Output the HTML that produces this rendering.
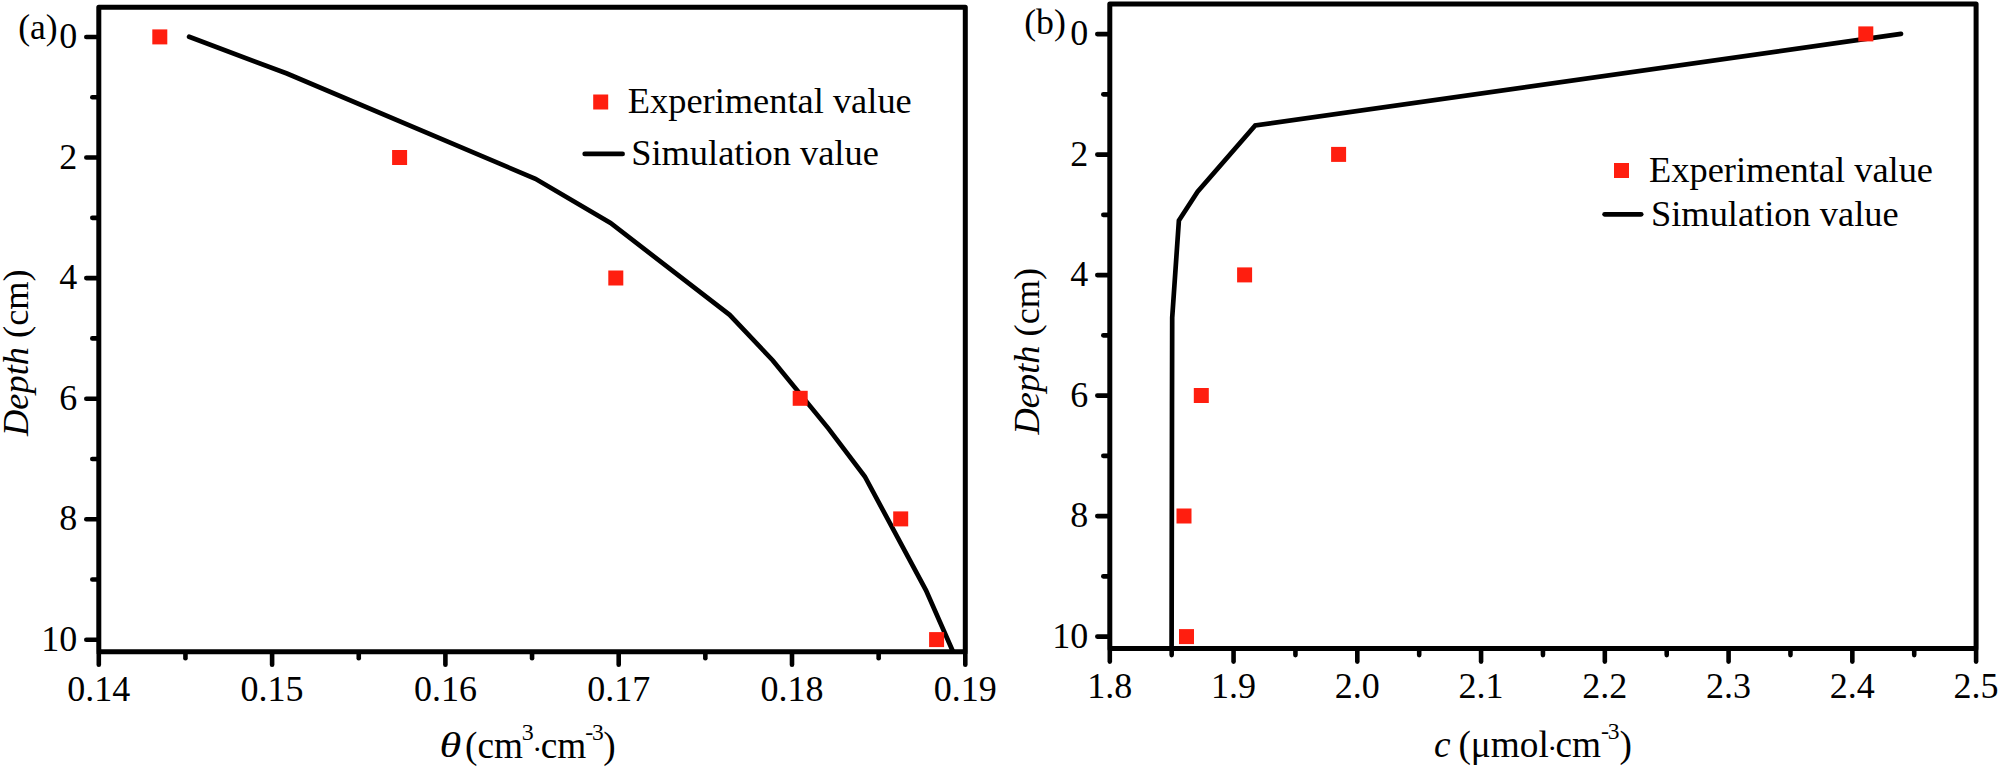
<!DOCTYPE html>
<html lang="en"><head><meta charset="utf-8"><title>Figure</title>
<style>
html,body{margin:0;padding:0;background:#fff;}
body{width:2000px;height:767px;overflow:hidden;}
svg{display:block;}
text{font-family:"Liberation Serif","DejaVu Serif",serif;fill:#000;}
.tl{font-size:36px;}
.tk{stroke:#000;stroke-width:4.6;stroke-linecap:round;}
.cv{fill:none;stroke:#000;stroke-width:4.7;stroke-linecap:round;stroke-linejoin:miter;stroke-miterlimit:10;}
.lg{font-size:36.4px;}
.ax{font-size:36.4px;}
.i{font-style:italic;}
</style></head><body>
<svg width="2000" height="767" viewBox="0 0 2000 767">
<rect width="2000" height="767" fill="#fff"/>
<rect x="98.8" y="7.2" width="866.50" height="644.55" fill="none" stroke="#000" stroke-width="5.0" stroke-linejoin="round"/>
<line x1="97.3" y1="37.00" x2="86.3" y2="37.00" class="tk"/>
<text x="77.19999999999999" y="48.20" text-anchor="end" class="tl">0</text>
<line x1="97.3" y1="97.28" x2="92.3" y2="97.28" class="tk"/>
<line x1="97.3" y1="157.56" x2="86.3" y2="157.56" class="tk"/>
<text x="77.19999999999999" y="168.76" text-anchor="end" class="tl">2</text>
<line x1="97.3" y1="217.84" x2="92.3" y2="217.84" class="tk"/>
<line x1="97.3" y1="278.12" x2="86.3" y2="278.12" class="tk"/>
<text x="77.19999999999999" y="289.32" text-anchor="end" class="tl">4</text>
<line x1="97.3" y1="338.40" x2="92.3" y2="338.40" class="tk"/>
<line x1="97.3" y1="398.68" x2="86.3" y2="398.68" class="tk"/>
<text x="77.19999999999999" y="409.88" text-anchor="end" class="tl">6</text>
<line x1="97.3" y1="458.96" x2="92.3" y2="458.96" class="tk"/>
<line x1="97.3" y1="519.24" x2="86.3" y2="519.24" class="tk"/>
<text x="77.19999999999999" y="530.44" text-anchor="end" class="tl">8</text>
<line x1="97.3" y1="579.52" x2="92.3" y2="579.52" class="tk"/>
<line x1="97.3" y1="639.80" x2="86.3" y2="639.80" class="tk"/>
<text x="77.19999999999999" y="651.00" text-anchor="end" class="tl">10</text>
<line x1="98.80" y1="653.25" x2="98.80" y2="664.75" class="tk"/>
<text x="98.80" y="700.75" text-anchor="middle" class="tl">0.14</text>
<line x1="272.10" y1="653.25" x2="272.10" y2="664.75" class="tk"/>
<text x="272.10" y="700.75" text-anchor="middle" class="tl">0.15</text>
<line x1="445.40" y1="653.25" x2="445.40" y2="664.75" class="tk"/>
<text x="445.40" y="700.75" text-anchor="middle" class="tl">0.16</text>
<line x1="618.70" y1="653.25" x2="618.70" y2="664.75" class="tk"/>
<text x="618.70" y="700.75" text-anchor="middle" class="tl">0.17</text>
<line x1="792.00" y1="653.25" x2="792.00" y2="664.75" class="tk"/>
<text x="792.00" y="700.75" text-anchor="middle" class="tl">0.18</text>
<line x1="965.30" y1="653.25" x2="965.30" y2="664.75" class="tk"/>
<text x="965.30" y="700.75" text-anchor="middle" class="tl">0.19</text>
<line x1="185.45" y1="653.25" x2="185.45" y2="658.25" class="tk"/>
<line x1="358.75" y1="653.25" x2="358.75" y2="658.25" class="tk"/>
<line x1="532.05" y1="653.25" x2="532.05" y2="658.25" class="tk"/>
<line x1="705.35" y1="653.25" x2="705.35" y2="658.25" class="tk"/>
<line x1="878.65" y1="653.25" x2="878.65" y2="658.25" class="tk"/>
<polyline class="cv" points="189.1,36.8 286.9,73.5 535.4,178.8 610.5,223 729.6,314.8 772.8,360.5 828.5,428.6 864.8,476.5 926,590.3 952.5,650.5"/>
<rect x="152.30" y="29.40" width="15.0" height="15.0" fill="#ff1e0f"/>
<rect x="392.10" y="150.00" width="15.0" height="15.0" fill="#ff1e0f"/>
<rect x="608.30" y="270.50" width="15.0" height="15.0" fill="#ff1e0f"/>
<rect x="792.70" y="390.80" width="15.0" height="15.0" fill="#ff1e0f"/>
<rect x="893.20" y="511.40" width="15.0" height="15.0" fill="#ff1e0f"/>
<rect x="929.10" y="632.10" width="15.0" height="15.0" fill="#ff1e0f"/>
<rect x="593.20" y="94.50" width="15.0" height="15.0" fill="#ff1e0f"/>
<text x="627.8" y="112.8" class="lg">Experimental value</text>
<line x1="584.7" y1="153.9" x2="622.6" y2="153.9" class="cv"/>
<text x="631.2" y="164.7" class="lg">Simulation value</text>
<text x="18.2" y="38.5" class="ax" style="font-size:35.6px">(a)</text>
<text transform="translate(28,436) rotate(-90)" class="ax"><tspan class="i">Depth</tspan> (cm)</text>
<text transform="translate(439.5,756.9) scale(1.22,0.97)" class="ax i">θ</text>
<text y="757.5" class="ax" style="font-size:37.3px"><tspan x="465.0">(cm</tspan><tspan x="521.7" dy="-17.8" font-size="24">3</tspan><tspan x="532.3" dy="19.4" font-size="30">·</tspan><tspan x="540.7" dy="-1.6">cm</tspan><tspan x="585.3" dy="-17.8" font-size="24">-</tspan><tspan dx="-1.4" font-size="23.5">3</tspan><tspan x="603.3" dy="17.8">)</tspan></text>
<rect x="1109.8" y="4.1" width="866.30" height="644.50" fill="none" stroke="#000" stroke-width="5.0" stroke-linejoin="round"/>
<line x1="1108.3" y1="34.10" x2="1097.3" y2="34.10" class="tk"/>
<text x="1088.2" y="45.30" text-anchor="end" class="tl">0</text>
<line x1="1108.3" y1="94.35" x2="1103.3" y2="94.35" class="tk"/>
<line x1="1108.3" y1="154.60" x2="1097.3" y2="154.60" class="tk"/>
<text x="1088.2" y="165.80" text-anchor="end" class="tl">2</text>
<line x1="1108.3" y1="214.85" x2="1103.3" y2="214.85" class="tk"/>
<line x1="1108.3" y1="275.10" x2="1097.3" y2="275.10" class="tk"/>
<text x="1088.2" y="286.30" text-anchor="end" class="tl">4</text>
<line x1="1108.3" y1="335.35" x2="1103.3" y2="335.35" class="tk"/>
<line x1="1108.3" y1="395.60" x2="1097.3" y2="395.60" class="tk"/>
<text x="1088.2" y="406.80" text-anchor="end" class="tl">6</text>
<line x1="1108.3" y1="455.85" x2="1103.3" y2="455.85" class="tk"/>
<line x1="1108.3" y1="516.10" x2="1097.3" y2="516.10" class="tk"/>
<text x="1088.2" y="527.30" text-anchor="end" class="tl">8</text>
<line x1="1108.3" y1="576.35" x2="1103.3" y2="576.35" class="tk"/>
<line x1="1108.3" y1="636.60" x2="1097.3" y2="636.60" class="tk"/>
<text x="1088.2" y="647.80" text-anchor="end" class="tl">10</text>
<line x1="1109.80" y1="650.1" x2="1109.80" y2="661.6" class="tk"/>
<text x="1109.80" y="697.60" text-anchor="middle" class="tl">1.8</text>
<line x1="1233.56" y1="650.1" x2="1233.56" y2="661.6" class="tk"/>
<text x="1233.56" y="697.60" text-anchor="middle" class="tl">1.9</text>
<line x1="1357.31" y1="650.1" x2="1357.31" y2="661.6" class="tk"/>
<text x="1357.31" y="697.60" text-anchor="middle" class="tl">2.0</text>
<line x1="1481.07" y1="650.1" x2="1481.07" y2="661.6" class="tk"/>
<text x="1481.07" y="697.60" text-anchor="middle" class="tl">2.1</text>
<line x1="1604.83" y1="650.1" x2="1604.83" y2="661.6" class="tk"/>
<text x="1604.83" y="697.60" text-anchor="middle" class="tl">2.2</text>
<line x1="1728.59" y1="650.1" x2="1728.59" y2="661.6" class="tk"/>
<text x="1728.59" y="697.60" text-anchor="middle" class="tl">2.3</text>
<line x1="1852.34" y1="650.1" x2="1852.34" y2="661.6" class="tk"/>
<text x="1852.34" y="697.60" text-anchor="middle" class="tl">2.4</text>
<line x1="1976.10" y1="650.1" x2="1976.10" y2="661.6" class="tk"/>
<text x="1976.10" y="697.60" text-anchor="middle" class="tl">2.5</text>
<line x1="1171.68" y1="650.1" x2="1171.68" y2="655.1" class="tk"/>
<line x1="1295.44" y1="650.1" x2="1295.44" y2="655.1" class="tk"/>
<line x1="1419.19" y1="650.1" x2="1419.19" y2="655.1" class="tk"/>
<line x1="1542.95" y1="650.1" x2="1542.95" y2="655.1" class="tk"/>
<line x1="1666.71" y1="650.1" x2="1666.71" y2="655.1" class="tk"/>
<line x1="1790.46" y1="650.1" x2="1790.46" y2="655.1" class="tk"/>
<line x1="1914.22" y1="650.1" x2="1914.22" y2="655.1" class="tk"/>
<polyline class="cv" points="1901,33.9 1255.2,125.5 1197.6,191.6 1178.9,220.4 1172.2,317.5 1172.0,405.4 1171.6,647"/>
<rect x="1858.30" y="26.40" width="15.0" height="15.0" fill="#ff1e0f"/>
<rect x="1331.10" y="146.90" width="15.0" height="15.0" fill="#ff1e0f"/>
<rect x="1237.10" y="267.40" width="15.0" height="15.0" fill="#ff1e0f"/>
<rect x="1193.80" y="388.00" width="15.0" height="15.0" fill="#ff1e0f"/>
<rect x="1176.50" y="508.50" width="15.0" height="15.0" fill="#ff1e0f"/>
<rect x="1179.00" y="629.10" width="15.0" height="15.0" fill="#ff1e0f"/>
<rect x="1614.00" y="163.00" width="15.0" height="15.0" fill="#ff1e0f"/>
<text x="1649.1" y="181.5" class="lg">Experimental value</text>
<line x1="1604.6" y1="214.3" x2="1641.2" y2="214.3" class="cv"/>
<text x="1651" y="225.5" class="lg">Simulation value</text>
<text x="1024.2" y="34.3" class="ax" style="font-size:35.8px">(b)</text>
<text transform="translate(1039,434.5) rotate(-90)" class="ax"><tspan class="i">Depth</tspan> (cm)</text>
<text y="756.5" class="ax" style="font-size:37.3px"><tspan x="1434" class="i">c</tspan><tspan x="1458.4">(μmol</tspan><tspan x="1547.2" dy="1.6" font-size="30">·</tspan><tspan x="1555.4" dy="-1.6">cm</tspan><tspan x="1601" dy="-17.8" font-size="24">-</tspan><tspan dx="-1.2" font-size="23.5">3</tspan><tspan x="1619.6" dy="17.8">)</tspan></text>
</svg></body></html>
